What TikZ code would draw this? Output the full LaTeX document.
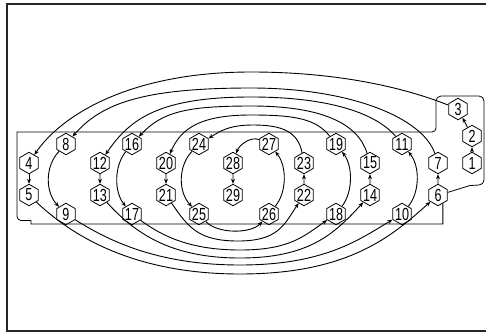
\documentclass[tikz,border=0pt]{standalone}
\usepackage{fontspec}
\setmainfont{Liberation Sans}[FakeStretch=0.72]
\usetikzlibrary{shapes.geometric,arrows.meta}
\begin{document}
\begin{tikzpicture}[x=1pt,y=1pt,
  hexa/.style={draw, line width=0.8pt, regular polygon, regular polygon sides=6,
    regular polygon rotate=30, minimum size=21.5pt, inner sep=-0.8pt,
    font=\fontsize{17.5}{17.5}\selectfont},
  conn/.style={line width=0.9pt, -{Stealth[length=5pt,width=4pt]}},
  plate/.style={line width=0.8pt},
  frame/.style={line width=1.3pt, black!85}]
\useasboundingbox (0,0) rectangle (486,333);
\draw[frame] (486,329) -- (7,329) -- (7,2) -- (486,2);
% nodes
\node[hexa] (n1) at (472,170) {1};
\node[hexa] (n2) at (472,197) {2};
\node[hexa] (n3) at (458,224) {3};
\node[hexa] (n4) at (29,170) {4};
\node[hexa] (n5) at (29,138) {5};
\node[hexa] (n6) at (438,138) {6};
\node[hexa] (n7) at (438,170) {7};
\node[hexa] (n8) at (66,189) {8};
\node[hexa] (n9) at (66,119) {9};
\node[hexa] (n10) at (402,119) {10};
\node[hexa] (n11) at (402,189) {11};
\node[hexa] (n12) at (100,170) {12};
\node[hexa] (n13) at (100,138) {13};
\node[hexa] (n14) at (370,138) {14};
\node[hexa] (n15) at (370,170) {15};
\node[hexa] (n16) at (132,189) {16};
\node[hexa] (n17) at (132,119) {17};
\node[hexa] (n18) at (336,119) {18};
\node[hexa] (n19) at (336,189) {19};
\node[hexa] (n20) at (166,170) {20};
\node[hexa] (n21) at (166,138) {21};
\node[hexa] (n22) at (304,138) {22};
\node[hexa] (n23) at (304,170) {23};
\node[hexa] (n24) at (199,189) {24};
\node[hexa] (n25) at (199,119) {25};
\node[hexa] (n26) at (269,119) {26};
\node[hexa] (n27) at (269,189) {27};
\node[hexa] (n28) at (233,170) {28};
\node[hexa] (n29) at (233,138) {29};
% plate outline
\draw[plate] (n6.-60) |- (31,109) -- (31,112.5) -- (21,112.5)
  arc[start angle=270,end angle=180,radius=4] -- (17,201) -- (432,201)
  arc[start angle=270,end angle=360,radius=4] -- (436,232)
  arc[start angle=180,end angle=90,radius=5] -- (479,237)
  arc[start angle=90,end angle=0,radius=5] -- (484,153)
  arc[start angle=0,end angle=-90,radius=5] -- (470,147.5) -- (n6.15);
% short arrows
\draw[conn] (n1) -- (n2);
\draw[conn] (n2) -- (n3);
\draw[conn] (n4) -- (n5);
\draw[conn] (n6) -- (n7);
\draw[conn] (n12) -- (n13);
\draw[conn] (n14) -- (n15);
\draw[conn] (n20) -- (n21);
\draw[conn] (n22) -- (n23);
\draw[conn] (n28) -- (n29);
% top arcs
\draw[conn] (n3) .. controls +(-55,22) and +(85,0) .. (251,261) .. controls +(-125,0) and +(30,45) .. (n4);
\draw[conn] (n7) .. controls +(-15,45) and +(100,0) .. (251,245) .. controls +(-110,0) and +(35,40) .. (n8);
\draw[conn] (n11) .. controls +(-25,30) and +(80,0) .. (251,236) .. controls +(-90,0) and +(30,45) .. (n12);
\draw[conn] (n15) .. controls +(-12,40) and +(70,0) .. (251,227) .. controls +(-65,0) and +(30,32) .. (n16);
\draw[conn] (n19) .. controls +(-20,25) and +(45,0) .. (251,218) .. controls +(-50,0) and +(15,35) .. (n20);
\draw[conn] (n23) .. controls +(-6,32) and +(28,0) .. (253,208) .. controls +(-25,0) and +(20,12) .. (n24);
\draw[conn] (n27) .. controls +(-18,8) and +(6,18) .. (n28);
% bottom arcs
\draw[conn] (n5) .. controls +(40,-38) and +(-110,0) .. (240,59) .. controls +(110,0) and +(-45,-40) .. (n6);
\draw[conn] (n9) .. controls +(40,-25) and +(-85,0) .. (240,68) .. controls +(85,0) and +(-42,-25) .. (n10);
\draw[conn] (n13) .. controls +(35,-38) and +(-70,0) .. (240,75) .. controls +(70,0) and +(-35,-38) .. (n14);
\draw[conn] (n17) .. controls +(30,-22) and +(-50,0) .. (240,83) .. controls +(50,0) and +(-32,-22) .. (n18);
\draw[conn] (n21) .. controls +(22,-32) and +(-40,0) .. (238,92) .. controls +(40,0) and +(-20,-30) .. (n22);
\draw[conn] (n25) .. controls +(18,-20) and +(-18,-20) .. (n26);
% side arcs
\draw[conn] (n8) .. controls +(-21,-22) and +(-21,22) .. (n9);
\draw[conn] (n16) .. controls +(-18,-22) and +(-18,22) .. (n17);
\draw[conn] (n24) .. controls +(-21,-22) and +(-21,22) .. (n25);
\draw[conn] (n10) .. controls +(18,22) and +(18,-22) .. (n11);
\draw[conn] (n18) .. controls +(17,22) and +(17,-22) .. (n19);
\draw[conn] (n26) .. controls +(18,22) and +(18,-22) .. (n27);
\end{tikzpicture}
\end{document}
